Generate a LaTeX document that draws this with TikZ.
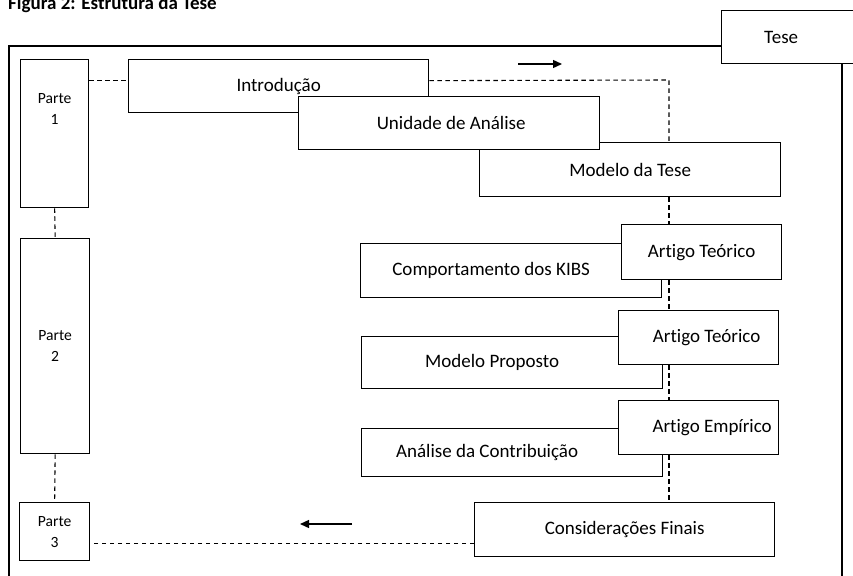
\documentclass[tikz,border=0pt]{standalone}
\usepackage{fontspec}
\setmainfont{Carlito}[Ligatures={NoCommon,NoContextual}]
\usetikzlibrary{arrows.meta}
\begin{document}
\begin{tikzpicture}[x=1pt,y=-1pt,
  box/.style={draw, fill=white, line width=1.3pt, inner sep=0pt, anchor=north west,
              font=\fontsize{19}{23}\selectfont},
  partbox/.style={box, align=center, font=\fontsize{15.6}{21}\selectfont},
  frame/.style={line width=1.3pt},
  link/.style={dash pattern=on 4.5pt off 3.5pt, line width=1.1pt},
  flow/.style={-{Triangle[length=9pt,width=8pt]}, line width=1.3pt},
  nudge/.style={execute at begin node={\hspace*{#1}}},
]
\useasboundingbox (0,0) rectangle (853,575);
\clip (0,0) rectangle (853,575);

% caption
\node[anchor=base west, inner sep=0pt, font=\bfseries\fontsize{19}{23}\selectfont]
  (title) at (8,10) {Figura 2: Estrutura da Tese};

% outer frame with its tab
\node[box, minimum width=160pt, minimum height=53pt, nudge=-41pt] (tese) at (721,10) {Tese};
\coordinate (fbl) at (9,600);
\coordinate (ftl) at (9,46);
\coordinate (fbr) at (842,600);
\draw[frame] (fbl) -- (ftl) -- (tese.west |- ftl);
\draw[frame] (fbr |- tese.south) -- (fbr);

% the three parts
\node[partbox, minimum width=68pt, minimum height=148pt] (p1) at (20,59) {Parte\\1\\[29pt]~};
\node[partbox, minimum width=69pt, minimum height=215pt] (p2) at (20,238) {Parte\\2};
\node[partbox, minimum width=70pt, minimum height=58pt] (p3) at (19,502) {Parte\\3};

% chapters
\node[box, minimum width=300pt, minimum height=53pt] (intro) at (128,59) {Introdução};
\node[box, minimum width=301pt, minimum height=54pt] (modelo) at (479,142) {Modelo da Tese};
\node[box, minimum width=301pt, minimum height=53pt, nudge=4pt] (unidade) at (298,96) {Unidade de Análise};

\node[box, minimum width=301pt, minimum height=54pt, nudge=-40pt] (kibs) at (360,243) {Comportamento dos KIBS};
\node[box, minimum width=160pt, minimum height=55pt] (art1) at (621,224) {Artigo Teórico};

\node[box, minimum width=301pt, minimum height=52pt, nudge=-40pt] (proposto) at (361,336) {Modelo Proposto};
\node[box, minimum width=160pt, minimum height=54pt, nudge=16pt] (art2) at (618,310) {Artigo Teórico};

\node[box, minimum width=301pt, minimum height=48pt, nudge=-50pt] (analise) at (361,428) {Análise da Contribuição};
\node[box, minimum width=160pt, minimum height=54pt, nudge=27pt] (art3) at (618,400) {Artigo Empírico};

\node[box, minimum width=300pt, minimum height=54pt] (consid) at (474,502) {Considerações Finais};

% dashed connections
\coordinate (spine) at (669,80);
\coordinate (introIn) at ([yshift=5.5pt]intro.west);
\coordinate (introOut) at ([yshift=5.5pt]intro.east);
\coordinate (considOut) at ([yshift=-14pt]consid.west);

\draw[link] (p1.east |- introIn) -- (introIn);
\draw[link] (introOut) -- (spine) -- (spine |- modelo.north);
\draw[link] (spine |- modelo.south) -- (spine |- art1.north);
\draw[link] (spine |- art1.south) -- (spine |- art2.north);
\draw[link] (spine |- art2.south) -- (spine |- art3.north);
\draw[link] (spine |- art3.south) -- (spine |- consid.north);
\draw[link] (p1.south) -- (p2.north);
\draw[link] (p2.south) -- (p3.north);
\draw[link] (considOut) -- (p3.east |- considOut);

% reading direction
\coordinate (fwdA) at (518,64);
\coordinate (fwdB) at (562,64);
\coordinate (backA) at (352,524);
\coordinate (backB) at (300,524);
\draw[flow] (fwdA) -- (fwdB);
\draw[flow] (backA) -- (backB);
\end{tikzpicture}
\end{document}
